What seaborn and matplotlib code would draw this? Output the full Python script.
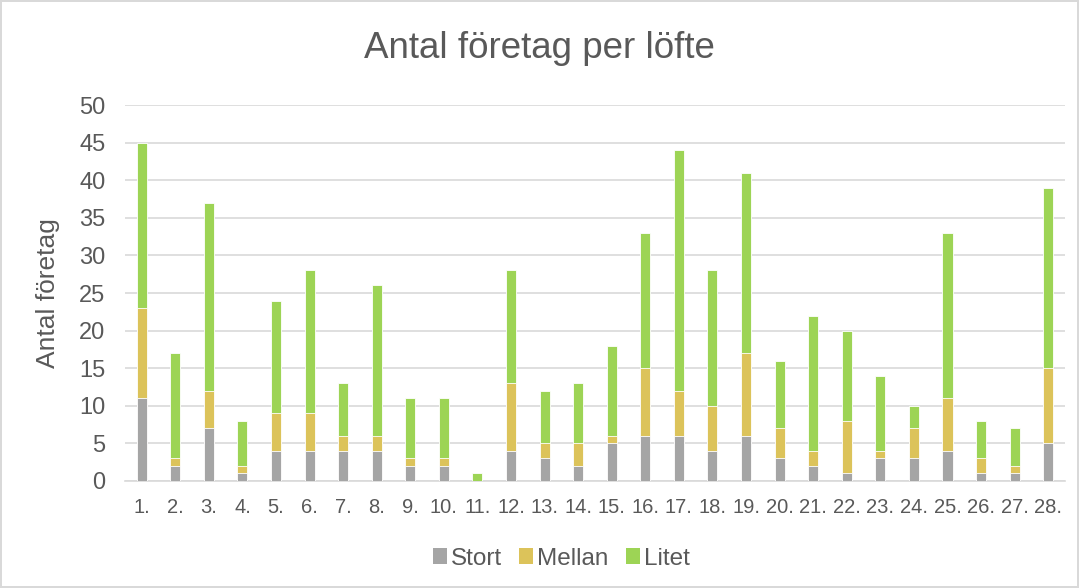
import matplotlib
matplotlib.use("Agg")
import matplotlib.pyplot as plt
from matplotlib.patches import Patch
import seaborn as sns
import pandas as pd
import numpy as np

categories = [f"{i}." for i in range(1, 29)]
stort  = [11, 2, 7, 1, 4, 4, 4, 4, 2, 2, 0, 4, 3, 2, 5, 6, 6, 4, 6, 3, 2, 1, 3, 3, 4, 1, 1, 5]
mellan = [12, 1, 5, 1, 5, 5, 2, 2, 1, 1, 0, 9, 2, 3, 1, 9, 6, 6, 11, 4, 2, 7, 1, 4, 7, 2, 1, 10]
litet  = [22, 14, 25, 6, 15, 19, 7, 20, 8, 8, 1, 15, 7, 8, 12, 18, 32, 18, 24, 9, 18, 12, 10, 3, 22, 5, 5, 24]
series = ["Stort", "Mellan", "Litet"]
colors = ["#a5a5a5", "#dcc35a", "#9dd455"]

s = np.array(stort)
m = np.array(mellan)
l = np.array(litet)
df = pd.DataFrame({
    "cat": categories,
    "c1": s,
    "c2": s + m,
    "c3": s + m + l,
})

sns.set_theme(style="white")
plt.rcParams["font.family"] = ["Liberation Sans", "DejaVu Sans"]

fig = plt.figure(figsize=(10.79, 5.88), dpi=100, edgecolor="#d9d9d9", linewidth=1.5)
ax = fig.add_axes([0.1158, 0.182, 0.8712, 0.6394])

for col, c in zip(["c3", "c2", "c1"], colors[::-1]):
    sns.barplot(data=df, x="cat", y=col, color=c, width=0.3, ax=ax,
                saturation=1, edgecolor="white", linewidth=0.6, zorder=3)

ax.set_ylim(0, 50)
ax.set_xlim(-0.5, 27.5)
ax.set_yticks(range(0, 51, 5))
ax.yaxis.grid(True, color="#d9d9d9", linewidth=1.2, zorder=0)
ax.set_axisbelow(True)
for sp in ["top", "right", "left"]:
    ax.spines[sp].set_visible(False)
ax.spines["bottom"].set_color("#d9d9d9")
ax.spines["bottom"].set_linewidth(1.2)
ax.tick_params(axis="both", length=0, colors="#595959")
ax.tick_params(axis="y", labelsize=17, pad=14)
ax.tick_params(axis="x", labelsize=14.5, pad=12)
ax.set_xlabel("")
ax.set_ylabel("Antal företag", fontsize=19, color="#595959", labelpad=14)

fig.text(0.5, 0.918, "Antal företag per löfte", fontsize=26.5, color="#595959",
         ha="center", va="center")

handles = [Patch(facecolor=c, edgecolor="none", label=n) for n, c in zip(series, colors)]
fig.legend(handles=handles, loc="center", bbox_to_anchor=(0.52, 0.05), ncol=3,
           frameon=False, fontsize=17.5, handlelength=0.6, handleheight=0.6,
           handletextpad=0.15, columnspacing=0.7, labelcolor="#595959")

fig.savefig("out.png", dpi=100)
